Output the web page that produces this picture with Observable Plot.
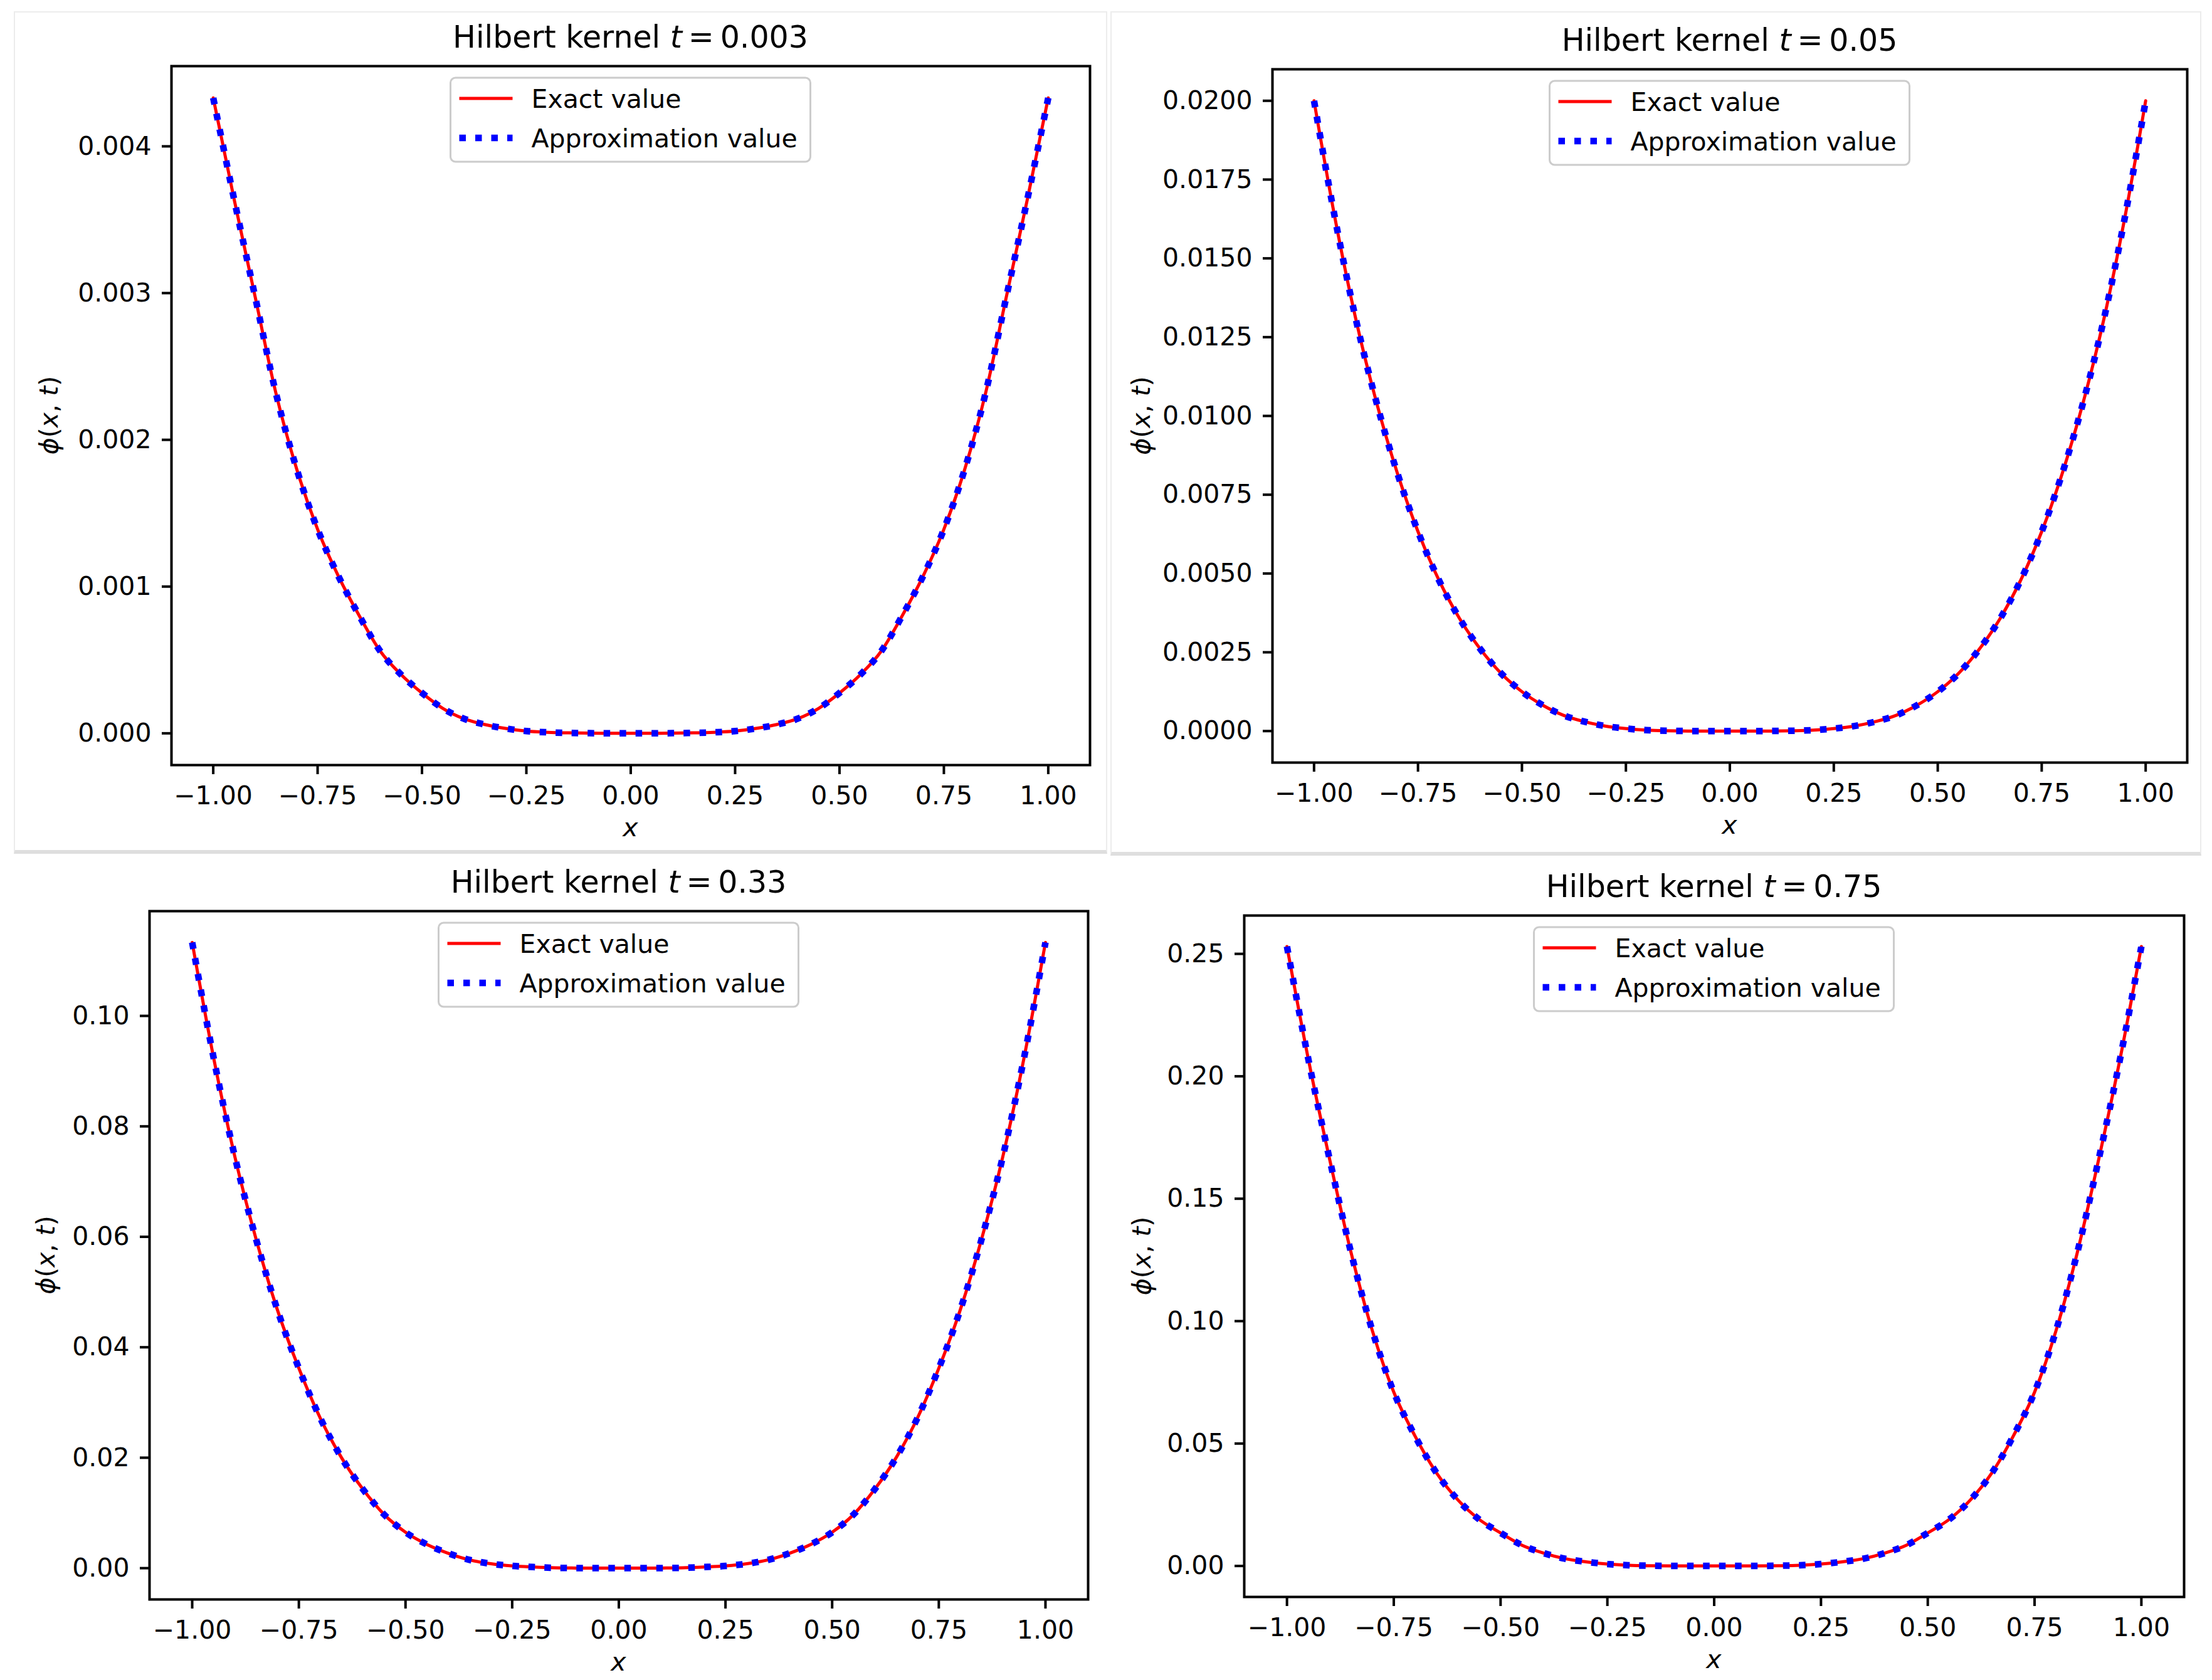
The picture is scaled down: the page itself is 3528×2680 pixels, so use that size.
<!DOCTYPE html>
<html><head><meta charset="utf-8">
<script src="https://cdn.jsdelivr.net/npm/d3@7"></script>
<script src="https://cdn.jsdelivr.net/npm/@observablehq/plot@0.6"></script>
<style>
html,body{margin:0;padding:0;background:#fff;}
#page{position:relative;width:3528px;height:2680px;background:#fff;overflow:hidden;font-family:"DejaVu Sans",sans-serif;}
.title{position:absolute;width:1200px;text-align:center;font-size:49px;line-height:49px;color:#000;white-space:nowrap;}
.shot{position:absolute;box-sizing:border-box;border:2px solid #ececec;border-bottom:6px solid #dedede;}
</style></head><body><div id="page"></div>
<script>
// ---- data ----
const xValues = [-1, -0.95, -0.9, -0.85, -0.8, -0.75, -0.7, -0.65, -0.6, -0.55, -0.5, -0.45, -0.4, -0.35, -0.3, -0.25, -0.2, -0.15, -0.1, -0.05, 0, 0.05, 0.1, 0.15, 0.2, 0.25, 0.3, 0.35, 0.4, 0.45, 0.5, 0.55, 0.6, 0.65, 0.7, 0.75, 0.8, 0.85, 0.9, 0.95, 1];

const phiT003 = [0.00433, 0.00364, 0.00298, 0.00232, 0.0018, 0.00139, 0.00107, 0.0008, 0.00056, 0.0004, 0.000275, 0.00017, 0.0001, 0.00006, 0.000033, 0.000015, 0.000007, 0.000003, 0.000001, 0.0000003, 0, 0.0000003, 0.000001, 0.000003, 0.000007, 0.000015, 0.000033, 0.00006, 0.0001, 0.00017, 0.000275, 0.0004, 0.00056, 0.0008, 0.00107, 0.00139, 0.0018, 0.00232, 0.00298, 0.00364, 0.00433];
const phiT005 = [0.02, 0.0163, 0.0131, 0.01044, 0.0082, 0.00633, 0.0048, 0.00357, 0.0026, 0.00183, 0.00125, 0.00082, 0.0005, 0.0003, 0.00016, 0.00008, 0.00003, 0.00001, 0.000002, 0.0000001, 0, 0.0000001, 0.000002, 0.00001, 0.00003, 0.00008, 0.00016, 0.0003, 0.0005, 0.00082, 0.00125, 0.00183, 0.0026, 0.00357, 0.0048, 0.00633, 0.0082, 0.01044, 0.0131, 0.0163, 0.02];
const phiT033 = [0.1133, 0.0925, 0.0745, 0.0595, 0.0467, 0.0362, 0.0272, 0.02, 0.0143, 0.0097, 0.0065, 0.0043, 0.0027, 0.0015, 0.0008, 0.0004, 0.0002, 0.00006, 0.00002, 0.000001, 0, 0.000001, 0.00002, 0.00006, 0.0002, 0.0004, 0.0008, 0.0015, 0.0027, 0.0043, 0.0065, 0.0097, 0.0143, 0.02, 0.0272, 0.0362, 0.0467, 0.0595, 0.0745, 0.0925, 0.1133];
const phiT075 = [0.253, 0.207, 0.166, 0.128, 0.096, 0.071, 0.053, 0.038, 0.027, 0.019, 0.0135, 0.0085, 0.0053, 0.003, 0.0017, 0.0008, 0.0003, 0.0001, 0.00002, 0.000002, 0, 0.000002, 0.00002, 0.0001, 0.0003, 0.0008, 0.0017, 0.003, 0.0053, 0.0085, 0.0135, 0.019, 0.027, 0.038, 0.053, 0.071, 0.096, 0.128, 0.166, 0.207, 0.253];

// approximation curves coincide with the exact ones in the picture
const approxT003 = phiT003;
const approxT005 = phiT005;
const approxT033 = phiT033;
const approxT075 = phiT075;

const xTickValues = [-1, -0.75, -0.5, -0.25, 0, 0.25, 0.5, 0.75, 1];
const yTicksT003 = [0, 0.001, 0.002, 0.003, 0.004];
const yTicksT005 = [0, 0.0025, 0.005, 0.0075, 0.01, 0.0125, 0.015, 0.0175, 0.02];
const yTicksT033 = [0, 0.02, 0.04, 0.06, 0.08, 0.1];
const yTicksT075 = [0, 0.05, 0.1, 0.15, 0.2, 0.25];
const timeLabels = ["0.003", "0.05", "0.33", "0.75"];
const legendLabels = ["Exact value", "Approximation value"];

// ---- layout ----
const panels = [
  {t: timeLabels[0], exact: phiT003, approx: approxT003, yTicks: yTicksT003, fmt: ".3f",
   box: {x: 0, y: 0, w: 1768, h: 1340}, frame: {l: 273, r: 1738, t: 105, b: 1220}, ylabOff: 194},
  {t: timeLabels[1], exact: phiT005, approx: approxT005, yTicks: yTicksT005, fmt: ".4f",
   box: {x: 1768, y: 0, w: 1760, h: 1340}, frame: {l: 2029, r: 3488, t: 110, b: 1216}, ylabOff: 208},
  {t: timeLabels[2], exact: phiT033, approx: approxT033, yTicks: yTicksT033, fmt: ".2f",
   box: {x: 0, y: 1340, w: 1768, h: 1340}, frame: {l: 238, r: 1735, t: 1453, b: 2551}, ylabOff: 164},
  {t: timeLabels[3], exact: phiT075, approx: approxT075, yTicks: yTicksT075, fmt: ".2f",
   box: {x: 1768, y: 1340, w: 1760, h: 1340}, frame: {l: 1984, r: 3483, t: 1460, b: 2547}, ylabOff: 162}
];

const page = document.getElementById("page");

// screenshot frames around the top two panels
[[22, 18, 1744, 1344], [1771, 18, 1740, 1347]].forEach(([l, t, w, h]) => {
  const d = document.createElement("div");
  d.className = "shot";
  Object.assign(d.style, {left: l + "px", top: t + "px", width: w + "px", height: h + "px"});
  page.appendChild(d);
});

const FS = 41;
const dotW = 10.5, dotDash = "10.5,15";

panels.forEach(p => {
  const rows = xValues.map((x, i) => ({x, exact: p.exact[i], approx: p.approx[i]}));
  const ye = d3.extent(p.exact), ypad = (ye[1] - ye[0]) * 0.05;
  const xe = d3.extent(xValues), xpad = (xe[1] - xe[0]) * 0.05;
  const W = p.box.w, H = p.box.h;
  const ml = p.frame.l - p.box.x, mr = p.box.x + W - p.frame.r;
  const mt = p.frame.t - p.box.y, mb = p.box.y + H - p.frame.b;

  const chart = Plot.plot({
    width: W, height: H,
    marginLeft: ml, marginRight: mr, marginTop: mt, marginBottom: mb,
    x: {domain: [xe[0] - xpad, xe[1] + xpad]},
    y: {domain: [ye[0] - ypad, ye[1] + ypad]},
    style: {fontFamily: "DejaVu Sans", fontSize: FS + "px", color: "#000", background: "transparent", maxWidth: "none", overflow: "visible"},
    marks: [
      Plot.line(rows, {x: "x", y: "exact", stroke: "red", strokeWidth: 5, curve: "monotone-x"}),
      Plot.line(rows, {x: "x", y: "approx", stroke: "blue", strokeWidth: dotW, strokeDasharray: dotDash, strokeLinecap: "butt", curve: "monotone-x"}),
      Plot.axisX({ticks: xTickValues, tickFormat: d3.format(".2f"), tickSize: 15, tickPadding: 18, strokeWidth: 4, fontSize: FS, label: null, anchor: "bottom"}),
      Plot.axisY({ticks: p.yTicks, tickFormat: d3.format(p.fmt), tickSize: 15, tickPadding: 17, strokeWidth: 4, fontSize: FS, label: null, anchor: "left"}),
      Plot.frame({stroke: "black", strokeWidth: 4})
    ]
  });
  Object.assign(chart.style, {position: "absolute", left: p.box.x + "px", top: p.box.y + "px"});
  page.appendChild(chart);

  const svg = d3.select(chart);
  const cx = (ml + W - mr) / 2, cy = (mt + H - mb) / 2;

  // y axis label  ϕ(x, t)
  const yl = svg.append("text")
    .attr("transform", `translate(${ml - p.ylabOff},${cy}) rotate(-90)`)
    .attr("text-anchor", "middle").attr("dy", "0.31em")
    .attr("font-family", "DejaVu Sans").attr("font-size", FS).attr("fill", "#000");
  yl.append("tspan").attr("font-style", "italic").text("ϕ");
  yl.append("tspan").text("(");
  yl.append("tspan").attr("font-style", "italic").text("x");
  yl.append("tspan").text(", ");
  yl.append("tspan").attr("font-style", "italic").text("t");
  yl.append("tspan").text(")");

  // x axis label
  svg.append("text").attr("x", cx).attr("y", H - mb + 114)
    .attr("text-anchor", "middle").attr("font-family", "DejaVu Sans").attr("font-size", FS)
    .attr("font-style", "italic").attr("fill", "#000").text("x");

  // legend (upper center)
  const lw = 574, lh = 134;
  const g = svg.append("g").attr("transform", `translate(${cx - lw / 2},${mt + 19})`)
    .attr("text-anchor", "start");
  g.append("rect").attr("width", lw).attr("height", lh).attr("rx", 8)
    .attr("fill", "#fff").attr("fill-opacity", 0.8).attr("stroke", "#cccccc").attr("stroke-width", 3);
  g.append("line").attr("x1", 14).attr("x2", 99).attr("y1", 33).attr("y2", 33)
    .attr("stroke", "red").attr("stroke-width", 5);
  g.append("line").attr("x1", 14).attr("x2", 99).attr("y1", 96).attr("y2", 96)
    .attr("stroke", "blue").attr("stroke-width", dotW).attr("stroke-dasharray", dotDash);
  g.append("text").attr("x", 129).attr("y", 48).attr("text-anchor", "start").attr("font-family", "DejaVu Sans").attr("font-size", FS).attr("fill", "#000").text(legendLabels[0]);
  g.append("text").attr("x", 129).attr("y", 111).attr("text-anchor", "start").attr("font-family", "DejaVu Sans").attr("font-size", FS).attr("fill", "#000").text(legendLabels[1]);

  // title
  const title = document.createElement("div");
  title.className = "title";
  title.style.left = ((p.frame.l + p.frame.r) / 2 - 600) + "px";
  title.style.top = (p.frame.t - 29 - 41.5) + "px";
  title.innerHTML = "Hilbert kernel <i>t</i>\u2009=\u2009" + p.t;
  page.appendChild(title);
});
</script></body></html>
